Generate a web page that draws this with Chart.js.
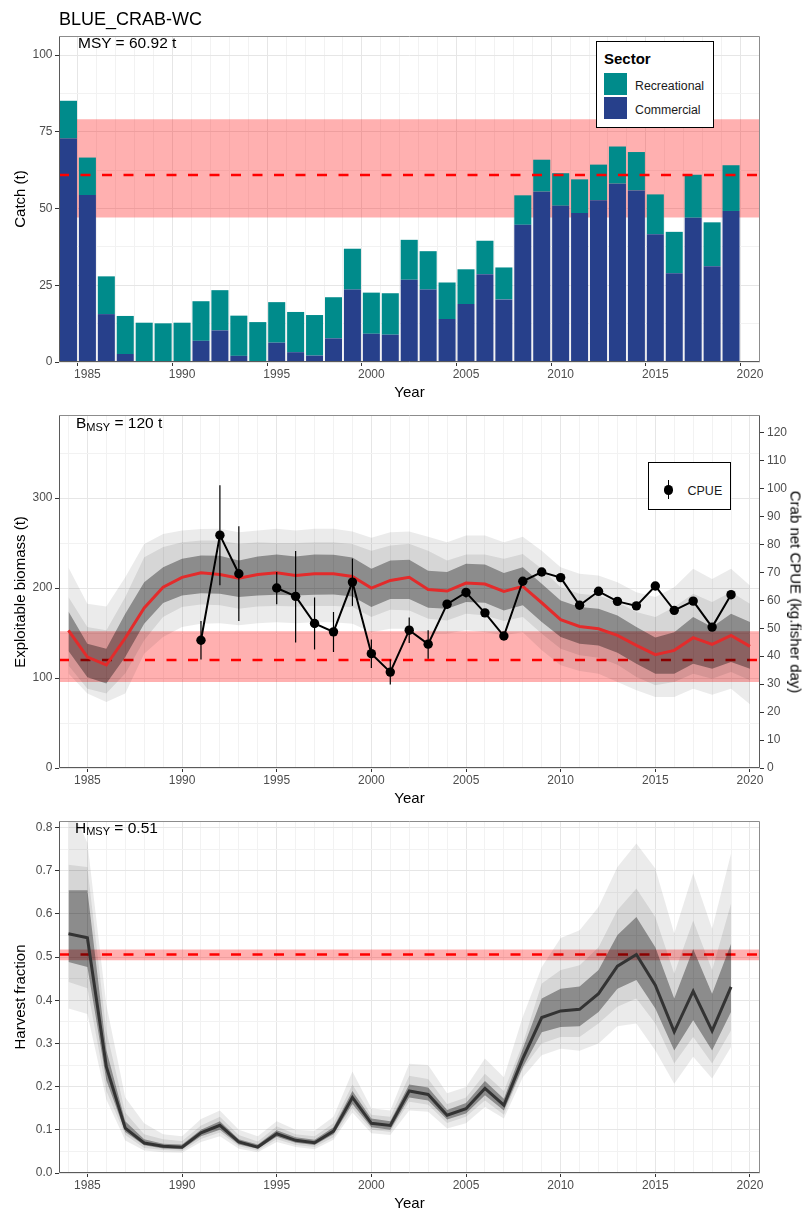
<!DOCTYPE html>
<html>
<head>
<meta charset="utf-8">
<script src="https://cdn.jsdelivr.net/npm/chart.js@4.4.1/dist/chart.umd.min.js"></script>
<style>
  html, body { margin: 0; padding: 0; background: #fff; }
  #page { position: relative; width: 803px; height: 1209px; overflow: hidden;
          font-family: 'Liberation Sans', Arial, Helvetica, sans-serif; }
  canvas { position: absolute; left: 0; }
  .t { position: absolute; white-space: nowrap; line-height: 1; color: #000; }
  .ax { font-size: 15px; color: #000; }
  .rotL { transform: translate(-50%, -50%) rotate(-90deg); }
  .rotR { transform: translate(-50%, -50%) rotate(90deg); }
  .ctr { transform: translateX(-50%); }
  .sub { font-size: 11px; position: relative; top: 2.5px; }
  .box { position: absolute; border: 1px solid #000; background: #fff; box-sizing: border-box; }
  .sw { position: absolute; width: 23px; height: 22px; }
  .lg { font-size: 12.3px; color: #1a1a1a; }
</style>
</head>
<body>
<div id="page">
  <canvas id="catchChart" width="803" height="405" style="top:0px"></canvas>
  <canvas id="biomassChart" width="803" height="403" style="top:405px"></canvas>
  <canvas id="harvestChart" width="803" height="401" style="top:808px"></canvas>

  <!-- panel 1 texts -->
  <div class="t" style="left:59px;top:9.8px;font-size:18px">BLUE_CRAB-WC</div>
  <div class="t" id="msyLabel" style="left:78px;top:35.2px;font-size:15.5px"></div>
  <div class="t ax rotL" style="left:18.8px;top:199px">Catch (t)</div>
  <div class="t ax ctr" style="left:409.5px;top:384.3px">Year</div>
  <div class="box" style="left:596px;top:41px;width:118px;height:87px"></div>
  <div class="t" style="left:604px;top:50.6px;font-size:15px;font-weight:bold">Sector</div>
  <div class="sw" style="left:604px;top:72.7px;background:#008B8B"></div>
  <div class="sw" style="left:604px;top:97.3px;background:#27408B"></div>
  <div class="t lg" style="left:635px;top:79.6px">Recreational</div>
  <div class="t lg" style="left:635px;top:103.9px">Commercial</div>

  <!-- panel 2 texts -->
  <div class="t" id="bmsyLabel" style="left:76px;top:415.2px;font-size:15.5px"></div>
  <div class="t ax rotL" style="left:18.8px;top:591.5px">Exploitable biomass (t)</div>
  <div class="t ax rotR" style="left:796.2px;top:591.5px">Crab net CPUE (kg.fisher day)</div>
  <div class="t ax ctr" style="left:409.5px;top:789.8px">Year</div>
  <div class="box" style="left:648px;top:462px;width:83px;height:48px"></div>
  <div style="position:absolute;left:667.7px;top:480px;width:1.2px;height:19.3px;background:#000"></div>
  <div style="position:absolute;left:663.6px;top:485.3px;width:9.4px;height:9.4px;border-radius:50%;background:#000"></div>
  <div class="t" style="left:687.5px;top:485.1px;font-size:12.5px;color:#1a1a1a">CPUE</div>

  <!-- panel 3 texts -->
  <div class="t" id="hmsyLabel" style="left:75px;top:819.6px;font-size:15.5px"></div>
  <div class="t ax rotL" style="left:18.8px;top:997px">Harvest fraction</div>
  <div class="t ax ctr" style="left:409.5px;top:1195px">Year</div>
</div>

<script>
// ---------------- data ----------------
const years = [1984, 1985, 1986, 1987, 1988, 1989, 1990, 1991, 1992, 1993, 1994, 1995, 1996,
  1997, 1998, 1999, 2000, 2001, 2002, 2003, 2004, 2005, 2006, 2007, 2008, 2009, 2010, 2011,
  2012, 2013, 2014, 2015, 2016, 2017, 2018, 2019, 2020];
const catchYears = years.slice(0, 36);            // 1984-2019
const yearLabels = [1985, 1990, 1995, 2000, 2005, 2010, 2015, 2020];
const xLimits = [1983.5, 2020.53];

// Catch by sector (t)
const commercial = [72.8, 54.4, 15.6, 2.6, 0, 0, 0, 6.9, 10.3, 2.0, 0, 6.3, 3.2, 2.1, 7.7, 23.6,
  9.2, 8.9, 26.8, 23.6, 14.0, 18.9, 28.6, 20.4, 44.7, 55.5, 50.9, 48.5, 52.7, 58.1, 55.9, 41.6,
  28.9, 47.0, 31.2, 49.2];
const recreational = [12.3, 12.2, 12.3, 12.4, 12.8, 12.6, 12.8, 12.9, 13.1, 13.1, 13.0, 13.2,
  13.1, 13.2, 13.4, 13.3, 13.4, 13.5, 13.0, 12.5, 11.9, 11.3, 10.9, 10.4, 9.6, 10.4, 10.6, 11.0,
  11.6, 12.1, 12.5, 13.0, 13.5, 14.0, 14.3, 14.9];
const msy = 60.92;
const msyBand = [47.05, 79.1];
const catchTicks = [0, 12.5, 25, 37.5, 50, 62.5, 75, 87.5, 100];
const catchLabels = [0, 25, 50, 75, 100];

// Exploitable biomass (t): median and credible bands
const bioMed = [153, 123.3, 114.5, 144.5, 178, 201, 212, 217, 215, 211, 215, 217, 214, 216, 216,
  213, 200, 208.5, 212, 198.5, 196.7, 205.6, 204.5, 196.3, 201.9, 183.7, 164.9, 157.4, 154.8,
  147.4, 136.3, 126, 130.8, 144.9, 137.4, 147.4, 135.2];
const bioDarkHi = [174, 138, 132.6, 171.5, 206.6, 223.3, 232.5, 236.3, 236, 230.7, 235, 237.4,
  235, 237.4, 237, 234, 221.5, 230.7, 231.5, 219.3, 217.8, 227, 226.3, 216.7, 223.3, 204.8,
  186.3, 178.9, 177, 169.6, 156.7, 145, 151, 167.8, 156.7, 171.5, 162.2];
const bioDarkLo = [130, 101, 93.8, 123.4, 160.4, 183.3, 191.9, 194.4, 193.7, 190, 191.9, 192.6,
  191.9, 192.6, 193, 190.7, 179, 188, 188, 178.1, 177, 184.4, 183.7, 175.2, 180.8, 162.2, 145.6,
  138.2, 136.3, 128.2, 116, 104.9, 104.9, 116, 110.4, 117.8, 110.4];
const bioMidHi = [190, 156.7, 153, 190, 234.4, 245.6, 251, 253, 253, 249.3, 251, 250, 250, 251,
  251, 249, 241.5, 247.4, 249.3, 241.5, 230.7, 237.4, 237.4, 232.5, 238, 221.5, 201, 193.7,
  191.9, 184.4, 173.3, 168, 179, 193.7, 184.5, 195.6, 182.6];
const bioMidLo = [114, 88, 82.7, 105, 142, 167.8, 179, 181.8, 180.8, 177, 179.6, 180, 179.6, 180,
  180, 179, 167.8, 176, 175, 166, 164, 171.5, 169.6, 163.4, 167.8, 149.3, 132.6, 125.3, 122.7,
  114.9, 101.2, 92, 95.6, 104.9, 99.3, 106.7, 97.5];
const bioOuterHi = [223, 182.6, 179.6, 212, 249, 260, 264, 265.6, 266, 262, 264, 266, 264, 266,
  266, 263, 256, 262, 263, 257, 251, 258.5, 258.5, 251, 257, 241.5, 223.3, 215.9, 214, 206.6,
  195.5, 190, 201, 221.5, 210, 221.5, 203];
const bioOuterLo = [105, 82.7, 73.3, 82.7, 127, 145.6, 156.7, 160.4, 161, 158.6, 161, 162, 161,
  162, 162, 160.4, 151, 154.8, 154.8, 149.3, 149.3, 153, 151, 147.5, 151, 130.8, 114.1, 107.9,
  104.9, 95.6, 86.4, 79, 78.9, 88.1, 81.3, 88.1, 70.8];
const bmsy = 120;
const bmsyBand = [95.6, 151.9];
const biomassTicks = [0, 50, 100, 150, 200, 250, 300, 350];
const biomassLabels = [0, 100, 200, 300];

// Crab net CPUE (kg / fisher day) with intervals
const cpueYears = [1991, 1992, 1993, 1994, 1995, 1996, 1997, 1998, 1999, 2000, 2001, 2002, 2003,
  2004, 2005, 2006, 2007, 2008, 2009, 2010, 2011, 2012, 2013, 2014, 2015, 2016, 2017, 2018, 2019];
const cpue = [45.7, 83.3, 69.5, null, 64.4, 61.4, 51.7, 48.7, 66.5, 40.9, 34.3, 49.3, 44.3, 58.6,
  62.8, 55.5, 47.2, 66.8, 70.1, 68.1, 58.2, 63.2, 59.6, 58.0, 65.1, 56.4, 59.7, 50.4, 62.0];
const cpueLo = [38.8, 65.4, 52.6, null, 58.6, 44.9, 42.4, 41.5, 58.0, 35.8, 29.9, 44.7, 39.1,
  57.0, 61.0, 54.8, 46.6, 66.3, 69.6, 67.6, 57.7, 62.7, 59.1, 57.5, 64.6, 55.9, 59.2, 49.9, 61.5];
const cpueHi = [52.6, 101.1, 86.5, null, 70.1, 77.6, 61.0, 55.8, 74.9, 46.0, 38.8, 53.8, 49.3,
  60.0, 64.2, 56.2, 47.8, 67.3, 70.6, 68.6, 58.7, 63.7, 60.1, 58.5, 65.6, 56.9, 60.2, 50.9, 62.5];
const cpueTicks = [0, 10, 20, 30, 40, 50, 60, 70, 80, 90, 100, 110, 120];

// Harvest fraction: median and credible bands (1984-2019)
const hMed = [0.554, 0.545, 0.246, 0.104, 0.0695, 0.062, 0.0595, 0.093, 0.1105, 0.072, 0.060,
  0.091, 0.0757, 0.070, 0.097, 0.175, 0.115, 0.110, 0.190, 0.182, 0.134, 0.149, 0.196, 0.157,
  0.265, 0.360, 0.3755, 0.379, 0.4155, 0.479, 0.506, 0.435, 0.327, 0.421, 0.329, 0.431];
const hDarkHi = [0.655, 0.655, 0.285, 0.12, 0.078, 0.068, 0.066, 0.1, 0.12, 0.078, 0.066, 0.099,
  0.083, 0.077, 0.106, 0.19, 0.126, 0.12, 0.205, 0.198, 0.146, 0.162, 0.213, 0.172, 0.288, 0.404,
  0.427, 0.432, 0.47, 0.551, 0.593, 0.523, 0.404, 0.519, 0.415, 0.531];
const hDarkLo = [0.489, 0.477, 0.215, 0.095, 0.064, 0.057, 0.055, 0.085, 0.1, 0.066, 0.056, 0.084,
  0.07, 0.065, 0.09, 0.16, 0.106, 0.1, 0.175, 0.168, 0.124, 0.138, 0.18, 0.145, 0.245, 0.326,
  0.338, 0.34, 0.373, 0.427, 0.447, 0.381, 0.284, 0.354, 0.284, 0.373];
const hMidHi = [0.714, 0.709, 0.33, 0.14, 0.09, 0.078, 0.074, 0.11, 0.13, 0.088, 0.073, 0.108,
  0.09, 0.085, 0.115, 0.205, 0.135, 0.13, 0.225, 0.218, 0.16, 0.175, 0.23, 0.19, 0.30, 0.439,
  0.47, 0.481, 0.523, 0.609, 0.659, 0.593, 0.462, 0.585, 0.47, 0.624];
const hMidLo = [0.4425, 0.428, 0.19, 0.088, 0.058, 0.053, 0.051, 0.079, 0.094, 0.062, 0.052,
  0.078, 0.065, 0.06, 0.083, 0.15, 0.1, 0.095, 0.165, 0.158, 0.116, 0.13, 0.168, 0.135, 0.241,
  0.30, 0.315, 0.315, 0.346, 0.385, 0.404, 0.346, 0.2534, 0.315, 0.2534, 0.33];
const hOuterHi = [0.86, 0.765, 0.39, 0.175, 0.115, 0.09, 0.085, 0.125, 0.145, 0.1, 0.085, 0.12,
  0.1, 0.098, 0.13, 0.235, 0.15, 0.145, 0.253, 0.25, 0.185, 0.199, 0.265, 0.222, 0.362, 0.477,
  0.5445, 0.562, 0.616, 0.709, 0.763, 0.705, 0.555, 0.694, 0.566, 0.74];
const hOuterLo = [0.381, 0.368, 0.17, 0.075, 0.052, 0.048, 0.047, 0.072, 0.085, 0.056, 0.048,
  0.072, 0.06, 0.055, 0.077, 0.14, 0.092, 0.088, 0.145, 0.142, 0.103, 0.115, 0.153, 0.126, 0.222,
  0.2727, 0.288, 0.283, 0.30, 0.34, 0.346, 0.284, 0.207, 0.269, 0.219, 0.292];
const hmsy = 0.506;
const hmsyBand = [0.4927, 0.5174];
const harvestTicks = [0, 0.05, 0.1, 0.15, 0.2, 0.25, 0.3, 0.35, 0.4, 0.45, 0.5, 0.55, 0.6, 0.65,
  0.7, 0.75, 0.8];
const harvestLabels = [0, 0.1, 0.2, 0.3, 0.4, 0.5, 0.6, 0.7, 0.8];

// ---------------- annotations ----------------
document.getElementById('msyLabel').textContent = 'MSY = ' + msy.toFixed(2) + ' t';
document.getElementById('bmsyLabel').innerHTML = 'B<span class="sub">MSY</span> = ' + bmsy + ' t';
document.getElementById('hmsyLabel').innerHTML = 'H<span class="sub">MSY</span> = ' + hmsy.toFixed(2);

// ---------------- shared styling ----------------
const FONT = "'Liberation Sans', Arial, Helvetica, sans-serif";
Chart.defaults.font.family = FONT;
Chart.defaults.font.size = 12;
Chart.defaults.color = '#4d4d4d';

const RED = '#ff0000';
const BAND_RED = 'rgba(255, 0, 0, 0.31)';
const RIB_OUTER = 'rgba(0, 0, 0, 0.08)';
const RIB_MID = 'rgba(0, 0, 0, 0.09)';
const RIB_DARK = 'rgba(0, 0, 0, 0.35)';
const NONE = 'rgba(0, 0, 0, 0)';

const pts = (xs, ys) => xs.map((x, i) => ({ x: x, y: ys[i] }));

function gridStyle(isMajor, onArea) {
  return {
    drawOnChartArea: onArea !== false,
    color: c => (c.tick && isMajor(c.tick.value)) ? '#e6e6e6' : '#f2f2f2',
    lineWidth: 1,
    drawTicks: true,
    tickLength: 4,
    tickWidth: 1,
    tickColor: c => (c.tick && isMajor(c.tick.value)) ? '#333333' : NONE
  };
}

function yearAxis(height) {
  return {
    type: 'linear', position: 'bottom', min: xLimits[0], max: xLimits[1], offset: false,
    afterBuildTicks: s => { s.ticks = years.map(v => ({ value: v })); },
    afterFit: s => { s.height = height; },
    ticks: {
      autoSkip: false, maxRotation: 0, minRotation: 0, padding: 1.5, color: '#4d4d4d',
      font: { size: 12 },
      callback: v => yearLabels.includes(v) ? String(v) : ''
    },
    grid: gridStyle(v => yearLabels.includes(v)),
    border: { display: false }
  };
}

function valueAxis(opts) {
  return {
    type: 'linear', position: opts.position || 'left', min: 0, max: opts.max,
    stacked: opts.stacked || false,
    afterBuildTicks: s => { s.ticks = opts.ticks.map(v => ({ value: v })); },
    afterFit: s => { s.width = opts.width; },
    ticks: {
      autoSkip: false, padding: opts.padding, color: '#4d4d4d', font: { size: 12 },
      callback: v => opts.labels.includes(v) ? opts.fmt(v) : ''
    },
    grid: gridStyle(v => opts.labels.includes(v), opts.onArea),
    border: { display: false }
  };
}

// horizontal reference band filled between two values across the x range
function refBand(range, order, axis) {
  return {
    type: 'line', data: pts(xLimits, [range[1], range[1]]), yAxisID: axis || 'y',
    fill: { value: range[0] }, backgroundColor: BAND_RED, borderColor: NONE, borderWidth: 0,
    pointRadius: 0, order: order, stack: 'refBand'
  };
}
function refLine(value, order) {
  return {
    type: 'line', data: pts(xLimits, [value, value]), borderColor: RED, borderWidth: 2.5,
    borderDash: [10, 11.5], borderCapStyle: 'butt', pointRadius: 0, fill: false,
    order: order, stack: 'refLine'
  };
}
function ribbon(xs, hi, lo, color, order) {
  return [
    { type: 'line', data: pts(xs, hi), fill: '+1', backgroundColor: color, borderColor: NONE,
      borderWidth: 0, pointRadius: 0, order: order },
    { type: 'line', data: pts(xs, lo), fill: false, borderColor: NONE, borderWidth: 0,
      pointRadius: 0, order: order }
  ];
}

// panel frame: light top/right, darker axis lines
const framePlugin = {
  id: 'frame',
  afterDraw(chart, args, o) {
    const { ctx, chartArea: a } = chart;
    const L = Math.round(a.left) + 0.5, R = Math.round(a.right) - 0.5;
    const T = Math.round(a.top) + 0.5, B = Math.round(a.bottom) - 0.5;
    ctx.save();
    ctx.lineWidth = 1;
    ctx.strokeStyle = '#8c8c8c';
    ctx.beginPath();
    ctx.moveTo(L, T); ctx.lineTo(R, T);
    if (!o.darkRight) { ctx.lineTo(R, B); }
    ctx.stroke();
    ctx.strokeStyle = '#5a5a5a';
    ctx.beginPath();
    ctx.moveTo(L, T); ctx.lineTo(L, B); ctx.lineTo(R, B);
    if (o.darkRight) { ctx.lineTo(R, T); }
    ctx.stroke();
    ctx.restore();
  }
};

// vertical CPUE interval bars
const errorBarPlugin = {
  id: 'errorBars',
  afterDatasetsDraw(chart) {
    const { ctx } = chart;
    const xs = chart.scales.x, ys = chart.scales.y2;
    ctx.save();
    ctx.strokeStyle = '#000';
    ctx.lineWidth = 1.2;
    cpueYears.forEach((yr, i) => {
      if (cpueLo[i] === null || cpueHi[i] === null) return;
      const px = xs.getPixelForValue(yr);
      ctx.beginPath();
      ctx.moveTo(px, ys.getPixelForValue(cpueLo[i]));
      ctx.lineTo(px, ys.getPixelForValue(cpueHi[i]));
      ctx.stroke();
    });
    ctx.restore();
  }
};

const baseOptions = {
  responsive: false, maintainAspectRatio: false, animation: false, devicePixelRatio: 1,
  events: [],
  plugins: { legend: { display: false }, tooltip: { enabled: false }, title: { display: false } }
};

// ---------------- panel 1: catch ----------------
new Chart(document.getElementById('catchChart'), {
  type: 'bar',
  data: {
    datasets: [
      refBand(msyBand, 3),
      { type: 'bar', label: 'Commercial', data: pts(catchYears, commercial),
        backgroundColor: '#27408B', borderWidth: 0, order: 2,
        categoryPercentage: 1, barPercentage: 0.9, stack: 'catch' },
      { type: 'bar', label: 'Recreational', data: pts(catchYears, recreational),
        backgroundColor: '#008B8B', borderWidth: 0, order: 2,
        categoryPercentage: 1, barPercentage: 0.9, stack: 'catch' },
      refLine(msy, 1)
    ]
  },
  options: Object.assign({}, baseOptions, {
    layout: { padding: { top: 36, right: 43, left: 0, bottom: 0 } },
    scales: {
      x: Object.assign(yearAxis(43), { stacked: true }),
      y: valueAxis({ max: 106.2, ticks: catchTicks, labels: catchLabels, fmt: v => String(v),
        width: 59, padding: 2.5, stacked: true })
    },
    plugins: Object.assign({}, baseOptions.plugins, { frame: {} })
  }),
  plugins: [framePlugin]
});

// ---------------- panel 2: biomass + CPUE ----------------
new Chart(document.getElementById('biomassChart'), {
  type: 'line',
  data: {
    datasets: [
      refBand(bmsyBand, 20),
      refLine(bmsy, 19),
      ...ribbon(years, bioOuterHi, bioOuterLo, RIB_OUTER, 18),
      ...ribbon(years, bioMidHi, bioMidLo, RIB_MID, 17),
      ...ribbon(years, bioDarkHi, bioDarkLo, RIB_DARK, 16),
      { type: 'line', data: pts(years, bioMed), borderColor: '#e32b2b', borderWidth: 3,
        pointRadius: 0, fill: false, tension: 0, order: 2 },
      { type: 'line', label: 'CPUE', data: pts(cpueYears, cpue), yAxisID: 'y2',
        borderColor: '#000', borderWidth: 2, pointRadius: 4.7, pointBackgroundColor: '#000',
        pointBorderWidth: 0, fill: false, spanGaps: false, tension: 0, order: 1 }
    ]
  },
  options: Object.assign({}, baseOptions, {
    layout: { padding: { top: 10, right: 0, left: 0, bottom: 0 } },
    scales: {
      x: yearAxis(40),
      y: valueAxis({ max: 392.2, ticks: biomassTicks, labels: biomassLabels,
        fmt: v => String(v), width: 59, padding: 2.5 }),
      y2: valueAxis({ position: 'right', max: 126.2, ticks: cpueTicks, labels: cpueTicks,
        fmt: v => String(v), width: 43, padding: 3, onArea: false })
    },
    plugins: Object.assign({}, baseOptions.plugins, { frame: { darkRight: true } })
  }),
  plugins: [framePlugin, errorBarPlugin]
});

// ---------------- panel 3: harvest fraction ----------------
new Chart(document.getElementById('harvestChart'), {
  type: 'line',
  data: {
    datasets: [
      refBand(hmsyBand, 20),
      refLine(hmsy, 19),
      ...ribbon(catchYears, hOuterHi, hOuterLo, RIB_OUTER, 18),
      ...ribbon(catchYears, hMidHi, hMidLo, RIB_MID, 17),
      ...ribbon(catchYears, hDarkHi, hDarkLo, RIB_DARK, 16),
      { type: 'line', data: pts(catchYears, hMed), borderColor: '#333333', borderWidth: 3,
        pointRadius: 0, fill: false, tension: 0, order: 1 }
    ]
  },
  options: Object.assign({}, baseOptions, {
    layout: { padding: { top: 13, right: 43, left: 0, bottom: 0 } },
    scales: {
      x: yearAxis(36),
      y: valueAxis({ max: 0.8153, ticks: harvestTicks, labels: harvestLabels,
        fmt: v => v.toFixed(1), width: 59, padding: 2.5 })
    },
    plugins: Object.assign({}, baseOptions.plugins, { frame: {} })
  }),
  plugins: [framePlugin]
});
</script>
</body>
</html>
